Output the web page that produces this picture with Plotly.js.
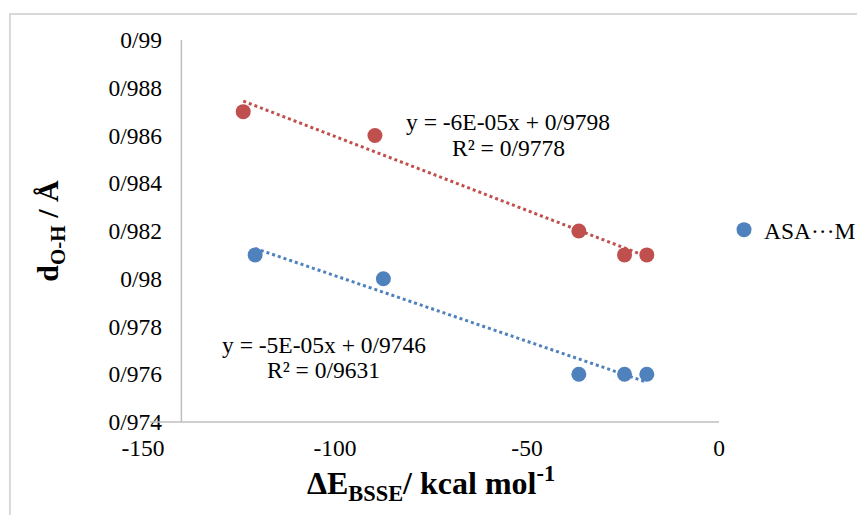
<!DOCTYPE html>
<html><head><meta charset="utf-8">
<script src="https://cdn.plot.ly/plotly-3.0.1.min.js"></script>
<style>html,body{margin:0;padding:0;background:#fff;}#chart{width:857px;height:515px;}</style>
</head><body><div id="chart"></div>
<script>
// ---- data ----
const redX = [-123.9, -89.6, -36.5, -24.6, -18.8];
const redY = [0.987, 0.986, 0.982, 0.981, 0.981];
const blueX = [-120.8, -87.4, -36.5, -24.6, -18.8];
const blueY = [0.981, 0.980, 0.976, 0.976, 0.976];
const seriesName = "ASA\u00B7\u00B7\u00B7M";
const yTickVals = [0.974, 0.976, 0.978, 0.98, 0.982, 0.984, 0.986, 0.988, 0.99];
const yTickText = ["0/974", "0/976", "0/978", "0/98", "0/982", "0/984", "0/986", "0/988", "0/99"];
const xTickVals = [-150, -100, -50, 0];
const xTickText = ["-150", "-100", "-50", "0"];
const redEq = ["y = -6E-05x + 0/9798", "R\u00B2 = 0/9778"];
const blueEq = ["y = -5E-05x + 0/9746", "R\u00B2 = 0/9631"];
const xTitle = "<b>\u0394E<sub>BSSE</sub>/ kcal mol<sup>-1</sup></b>";
const yTitle = "<b>d<sub>O-H</sub> / \u00C5</b>";
const yCross = -140;

// ---- linear fit (trendline) ----
function fit(xs, ys) {
  const n = xs.length;
  const mx = xs.reduce((a, b) => a + b, 0) / n;
  const my = ys.reduce((a, b) => a + b, 0) / n;
  let sxy = 0, sxx = 0;
  for (let i = 0; i < n; i++) { sxy += (xs[i] - mx) * (ys[i] - my); sxx += (xs[i] - mx) ** 2; }
  const m = sxy / sxx;
  return { m: m, b: my - m * mx };
}
function trend(xs, ys) {
  const f = fit(xs, ys);
  const x0 = Math.min(...xs), x1 = Math.max(...xs);
  return { x: [x0, x1], y: [f.m * x0 + f.b, f.m * x1 + f.b] };
}
const redT = trend(redX, redY);
const blueT = trend(blueX, blueY);

const RED = "#C0504D", BLUE = "#4F81BD";
const FONT = "Liberation Serif, 'Times New Roman', serif";

const traces = [
  { x: redT.x, y: redT.y, mode: "lines", line: { color: RED, width: 3, dash: "dot" }, showlegend: false, hoverinfo: "skip" },
  { x: blueT.x, y: blueT.y, mode: "lines", line: { color: BLUE, width: 3, dash: "dot" }, showlegend: false, hoverinfo: "skip" },
  { x: redX, y: redY, mode: "markers", marker: { color: RED, size: 15 }, showlegend: false, name: "red" },
  { x: blueX, y: blueY, mode: "markers", marker: { color: BLUE, size: 15 }, showlegend: true, name: seriesName }
];

const annFont = { family: FONT, size: 23.5, color: "#000" };
const layout = {
  width: 857, height: 515,
  margin: { l: 143, r: 138, t: 40, b: 93, pad: 0, autoexpand: false },
  paper_bgcolor: "#fff", plot_bgcolor: "#fff",
  font: { family: FONT, size: 23.5, color: "#000" },
  showlegend: true,
  legend: { x: 1.0087, y: 0.503, xanchor: "left", yanchor: "middle", bgcolor: "rgba(0,0,0,0)", borderwidth: 0, font: { family: FONT, size: 23.5, color: "#000" } },
  xaxis: {
    range: [-150, 0], showgrid: false, zeroline: false, showline: false,
    ticks: "", tickvals: xTickVals, ticktext: xTickText, ticklabelstandoff: 9, automargin: false,
    title: { text: xTitle, font: { family: FONT, size: 32, color: "#000" }, standoff: 12 }
  },
  yaxis: {
    range: [0.974, 0.99], showgrid: false, zeroline: false, showline: false, automargin: false,
    ticks: "", tickvals: yTickVals, ticktext: yTickText, ticklabelstandoff: -20,
    title: { text: yTitle, font: { family: FONT, size: 30, color: "#000" }, standoff: 40 }
  },
  shapes: [
    { type: "line", xref: "x", yref: "paper", x0: -148.2, x1: 0, y0: 0, y1: 0, line: { color: "#bfbfbf", width: 1.5 } },
    { type: "line", xref: "x", yref: "paper", x0: yCross, x1: yCross, y0: 0, y1: 1, line: { color: "#bfbfbf", width: 1.5 } },
    { type: "rect", xref: "paper", yref: "paper", x0: -0.231, x1: 1.3, y0: -0.29, y1: 1.068, line: { color: "#d9d9d9", width: 2 }, fillcolor: "rgba(0,0,0,0)" }
  ],
  annotations: [
    { xref: "paper", yref: "paper", x: 0.634, y: 0.785, text: redEq[0], showarrow: false, xanchor: "center", yanchor: "middle", font: annFont },
    { xref: "paper", yref: "paper", x: 0.635, y: 0.717, text: redEq[1], showarrow: false, xanchor: "center", yanchor: "middle", font: annFont },
    { xref: "paper", yref: "paper", x: 0.314, y: 0.2016, text: blueEq[0], showarrow: false, xanchor: "center", yanchor: "middle", font: annFont },
    { xref: "paper", yref: "paper", x: 0.3125, y: 0.136, text: blueEq[1], showarrow: false, xanchor: "center", yanchor: "middle", font: annFont }
  ]
};

Plotly.newPlot("chart", traces, layout, { displayModeBar: false, staticPlot: true });
</script>
</body></html>
